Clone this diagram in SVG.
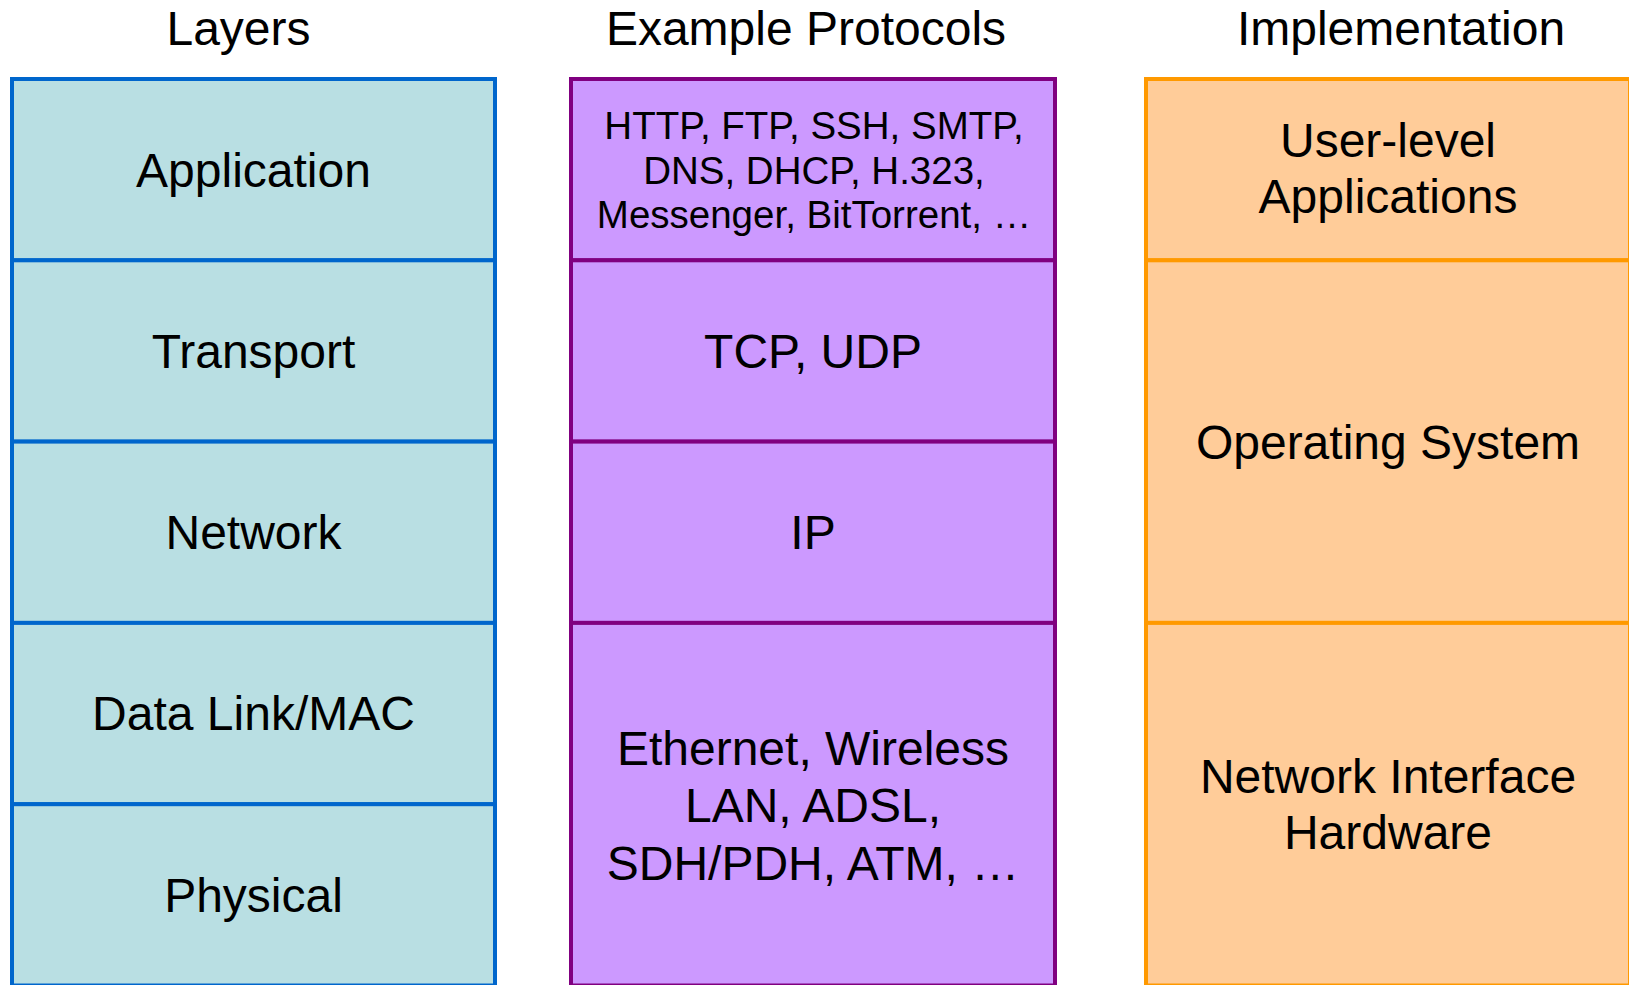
<svg xmlns="http://www.w3.org/2000/svg" width="1629" height="985" viewBox="0 0 1629 985">
<style>
text{font-family:"Liberation Sans",Arial,sans-serif;fill:#000;text-anchor:middle}
.h{font-size:48px}
.b{font-size:48px}
.s{font-size:38.5px}
.layer{fill:#B9DFE3;stroke:#0066CC;stroke-width:4}
.proto{fill:#CC99FF;stroke:#800080;stroke-width:4}
.impl{fill:#FFCC99;stroke:#FF9900;stroke-width:4}
</style>
<rect width="1629" height="985" fill="#fff"/>
<g id="headers">
<text class="h" x="238.5" y="45">Layers</text>
<text class="h" x="806" y="45">Example Protocols</text>
<text class="h" x="1401" y="45">Implementation</text>
</g>
<g id="layer-application"><rect class="layer" x="12" y="79" width="483" height="181.3"/><text class="b" x="253.5" y="186.5">Application</text></g>
<g id="layer-transport"><rect class="layer" x="12" y="260.3" width="483" height="181.3"/><text class="b" x="253.5" y="367.5">Transport</text></g>
<g id="layer-network"><rect class="layer" x="12" y="441.6" width="483" height="181.3"/><text class="b" x="253.5" y="549">Network</text></g>
<g id="layer-datalink"><rect class="layer" x="12" y="622.9" width="483" height="181.3"/><text class="b" x="253.5" y="730">Data Link/MAC</text></g>
<g id="layer-physical"><rect class="layer" x="12" y="804.2" width="483" height="181.3"/><text class="b" x="253.5" y="911.5">Physical</text></g>

<g id="proto-application"><rect class="proto" x="571" y="79" width="484" height="181.3"/>
<text class="s" x="814" y="139">HTTP, FTP, SSH, SMTP,</text>
<text class="s" x="814" y="183.5">DNS, DHCP, H.323,</text>
<text class="s" x="814" y="227.5">Messenger, BitTorrent, …</text></g>
<g id="proto-transport"><rect class="proto" x="571" y="260.3" width="484" height="181.3"/><text class="b" x="813" y="367.5">TCP, UDP</text></g>
<g id="proto-network"><rect class="proto" x="571" y="441.6" width="484" height="181.3"/><text class="b" x="813" y="549">IP</text></g>
<g id="proto-link"><rect class="proto" x="571" y="622.9" width="484" height="362.6"/>
<text class="b" x="813" y="764.5">Ethernet, Wireless</text>
<text class="b" x="813" y="822">LAN, ADSL,</text>
<text class="b" x="813" y="879.5">SDH/PDH, ATM, …</text></g>

<g id="impl-user"><rect class="impl" x="1146" y="79" width="484" height="181.3"/>
<text class="b" x="1388" y="157">User-level</text>
<text class="b" x="1388" y="213">Applications</text></g>
<g id="impl-os"><rect class="impl" x="1146" y="260.3" width="484" height="362.6"/><text class="b" x="1388" y="458.5">Operating System</text></g>
<g id="impl-nic"><rect class="impl" x="1146" y="622.9" width="484" height="362.6"/>
<text class="b" x="1388" y="793">Network Interface</text>
<text class="b" x="1388" y="849">Hardware</text></g>
</svg>
